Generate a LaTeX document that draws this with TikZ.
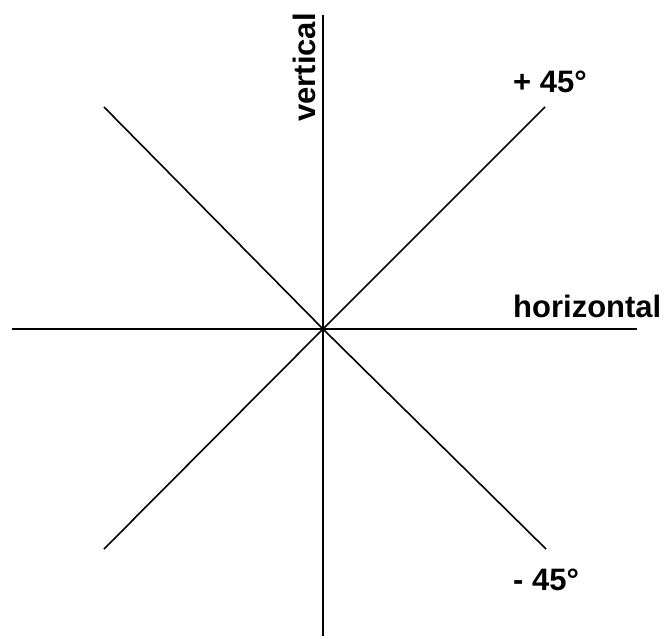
\documentclass[tikz,border=0pt]{standalone}
\usepackage{fontspec}
\setmainfont{Liberation Sans}
\begin{document}
\begin{tikzpicture}[x=1pt, y=-1pt,
    axis/.style={line width=1.6pt, black},
    lbl/.style={font=\fontsize{31}{37}\selectfont\bfseries, inner sep=0pt, anchor=base west}]

  % Frame
  \useasboundingbox (0, 0) rectangle (666, 639);

  % Centre and line ends
  \coordinate (o) at (323, 329);
  \coordinate (top) at (323, 15);
  \coordinate (bot) at (323, 636);
  \coordinate (lft) at (12, 329);
  \coordinate (rgt) at (637, 329);
  \coordinate (pp) at (545, 107);
  \coordinate (pm) at (104, 549);
  \coordinate (mp) at (104, 107);
  \coordinate (mm) at (546, 549);

  % Lines
  \draw[axis] (top) -- (o) -- (bot);
  \draw[axis] (lft) -- (o) -- (rgt);
  \draw[axis] (pm) -- (o) -- (pp);
  \draw[axis] (mp) -- (o) -- (mm);

  % Labels
  \node[lbl, rotate=90] (vert) at (315, 122) {vertical};
  \node[lbl] (horiz) at (513, 317) {horizontal};
  \node[lbl] (plus) at (513, 93) {+ 45°};
  \node[lbl] (minus) at (513, 590) {- 45°};

\end{tikzpicture}
\end{document}
